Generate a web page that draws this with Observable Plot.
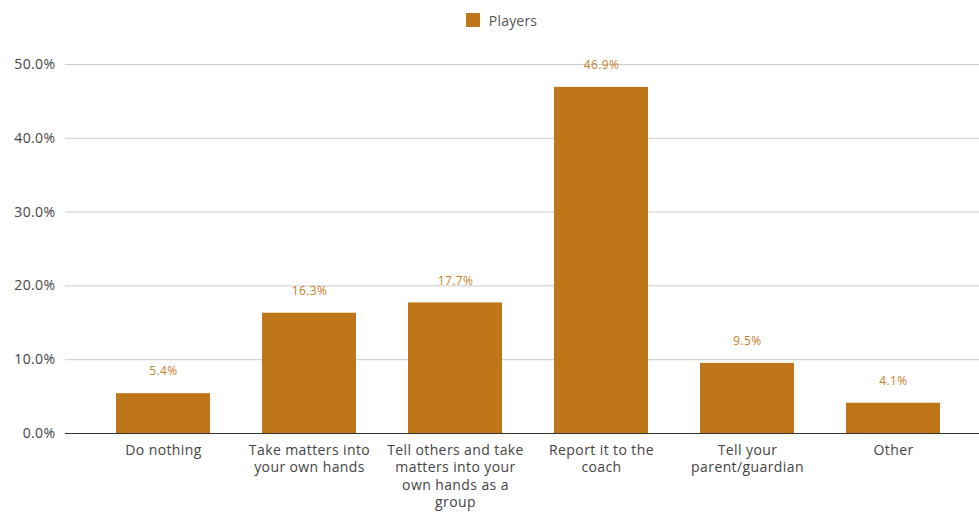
<!DOCTYPE html>
<html>
<head>
<meta charset="utf-8">
<script src="https://cdn.jsdelivr.net/npm/d3@7"></script>
<script src="https://cdn.jsdelivr.net/npm/@observablehq/plot@0.6"></script>
<style>
  body { margin: 0; background: #fff; font-family: "Open Sans", sans-serif; }
  #legend { height: 40px; display: flex; align-items: center; justify-content: center; font-size: 14px; color: #555; padding-left: 24px; box-sizing: border-box; letter-spacing: 0.2px; }
  #legend .sw { width: 14px; height: 14px; background: #BE7619; margin-right: 9px; }
</style>
</head>
<body>
<div id="legend"><span class="sw"></span><span>Players</span></div>
<div id="chart"></div>
<script>
const categories = [
  "Do nothing",
  "Take matters into\nyour own hands",
  "Tell others and take\nmatters into your\nown hands as a\ngroup",
  "Report it to the\ncoach",
  "Tell your\nparent/guardian",
  "Other"
];
const values = [5.4, 16.3, 17.7, 46.9, 9.5, 4.1];
const yTicks = [0, 10, 20, 30, 40, 50];
const seriesName = "Players";

const data = categories.map((c, i) => ({category: c, value: values[i]}));

const chart = Plot.plot({
  width: 979,
  height: 473,
  marginLeft: 65,
  marginRight: 0,
  marginTop: 24,
  marginBottom: 80,
  style: {fontFamily: "'Open Sans', sans-serif", fontSize: "14px", color: "#444", background: "#fff", letterSpacing: "0.4px"},
  x: {domain: categories, padding: 0.356, paddingOuter: 0.295, align: 0.57, label: null},
  y: {domain: [0, 50], label: null},
  marks: [
    Plot.ruleY(yTicks.filter(d => d > 0), {stroke: "#ccc", strokeWidth: 1}),
    Plot.barY(data, {x: "category", y: "value", fill: "#BE7619"}),
    Plot.ruleY([0], {stroke: "#333", strokeWidth: 1}),
    Plot.text(data, {x: "category", y: "value", text: d => d.value.toFixed(1) + "%", dy: -22, fill: "#C7802A", fontSize: 12}),
    Plot.axisY({ticks: yTicks, tickFormat: d => d.toFixed(1) + "%", tickSize: 0, tickPadding: 10, fontSize: 14, label: null}),
    Plot.axisX({tickSize: 0, tickPadding: 9, fontSize: 14, lineHeight: 1.24, label: null, textAnchor: "middle"})
  ]
});
document.getElementById("chart").appendChild(chart);
</script>
</body>
</html>
